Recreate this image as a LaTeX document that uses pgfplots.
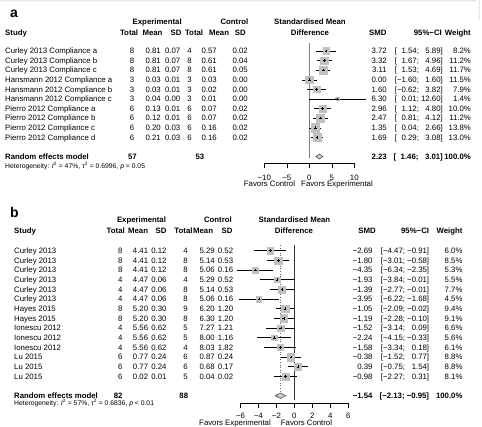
\documentclass[border=0pt]{standalone}
\usepackage{pgfplots}
\pgfplotsset{compat=1.18}
\usepackage{pgfplotstable}
\usepackage{fontspec}
\setmainfont{Liberation Sans}
\definecolor{sqgray}{RGB}{192,192,192}
\newcommand{\rs}{\fontsize{7.8}{9}\selectfont}
\newcommand{\hs}{\fontsize{6.8}{8}\selectfont}
\newlength{\wlA}\newlength{\whA}\newlength{\wlB}\newlength{\whB}
\AtBeginDocument{%
\settowidth{\wlA}{\rs −1.60}\settowidth{\whA}{\rs 12.60}%
\settowidth{\wlB}{\rs −6.34}\settowidth{\whB}{\rs −0.91}}
\newcommand{\ciA}[2]{[\makebox[\wlA][r]{#1}; \makebox[\whA][r]{#2}]}
\newcommand{\ciB}[2]{[\makebox[\wlB][r]{#1}; \makebox[\whB][r]{#2}]}

\pgfplotstableread{
i smd lo hi w
1 3.72 1.54 5.89 8.2
2 3.32 1.67 4.96 11.2
3 3.11 1.53 4.69 11.7
4 0.00 -1.60 1.60 11.5
5 1.60 -0.62 3.82 7.9
6 6.30 0.01 12.60 1.4
7 2.96 1.12 4.80 10.0
8 2.47 0.81 4.12 11.2
9 1.35 0.04 2.66 13.8
10 1.69 0.29 3.08 13.0
}\dataA

\pgfplotstableread{
i smd lo hi w
1 -2.69 -4.47 -0.91 6.0
2 -1.80 -3.01 -0.58 8.5
3 -4.35 -6.34 -2.35 5.3
4 -1.93 -3.84 -0.01 5.5
5 -1.39 -2.77 -0.01 7.7
6 -3.95 -6.22 -1.68 4.5
7 -1.05 -2.09 -0.02 9.4
8 -1.19 -2.28 -0.10 9.1
9 -1.52 -3.14 0.09 6.6
10 -2.24 -4.15 -0.33 5.6
11 -1.58 -3.34 0.18 6.1
12 -0.38 -1.52 0.77 8.8
13 0.39 -0.75 1.54 8.8
14 -0.98 -2.27 0.31 8.1
}\dataB

\pgfplotsset{
  forest/.style={scale only axis, anchor=south west, clip=false,
    axis x line*=bottom, axis y line=none, ytick=\empty,
    tick align=outside, major tick length=5pt,
    axis line style={line width=0.6pt},
    every tick/.style={black, line width=0.6pt},
    xticklabel style={font=\rs}},
  sq/.style={scatter, only marks, mark=square*,
    scatter/use mapped color={draw=sqgray, fill=sqgray},
    visualization depends on={#1*sqrt(\thisrow{w}) \as \msz},
    scatter/@pre marker code/.append style={/tikz/mark size=\msz}},
  ci/.style={only marks, mark=none, error bars/.cd, x dir=both, x explicit, error mark=none,
    error bar style={black, line width=0.5pt}},
}

\begin{document}
\begin{tikzpicture}
\begin{scope}[x=1pt,y=-1pt, every node/.style={inner sep=0pt, font=\rs}]
\path[use as bounding box] (0,0) rectangle (482,427);
\draw[black!25, line width=0.5pt] (0,0.8) -- (474,0.8) arc[start angle=90, end angle=0, radius=5] -- (479,20);

% ---------- panel a ----------
\node[anchor=base west, font=\fontsize{14}{16}\selectfont\bfseries] at (10,17.5) {a};
\node[anchor=base, font=\rs\bfseries] at (157.2,25) {Experimental};
\node[anchor=base east, font=\rs\bfseries] at (248.5,25) {Control};
\node[anchor=base, font=\rs\bfseries] at (310,25) {Standardised Mean};
\node[anchor=base west, font=\rs\bfseries] at (5,35.1) {Study};
\node[anchor=base east, font=\rs\bfseries] at (138.3,35.1) {Total};
\node[anchor=base east, font=\rs\bfseries] at (162.7,35.1) {Mean};
\node[anchor=base east, font=\rs\bfseries] at (181.7,35.1) {SD};
\node[anchor=base east, font=\rs\bfseries] at (203.3,35.1) {Total};
\node[anchor=base east, font=\rs\bfseries] at (229.3,35.1) {Mean};
\node[anchor=base east, font=\rs\bfseries] at (246,35.1) {SD};
\node[anchor=base, font=\rs\bfseries] at (310,35.1) {Difference};
\node[anchor=base east, font=\rs\bfseries] at (386.7,35.1) {SMD};
\node[anchor=base east, font=\rs\bfseries] at (442,35.1) {95\%−CI};
\node[anchor=base east, font=\rs\bfseries] at (471,35.1) {Weight};

\foreach \nm/\cA/\cB/\cC/\cD/\cE/\cF/\cG/\cH/\cI/\cJ [count=\rr from 0] in {
 {Curley 2013 Compliance a}/8/0.81/0.07/4/0.57/0.02/3.72/1.54/5.89/8.2,
 {Curley 2013 Compliance b}/8/0.81/0.07/8/0.61/0.04/3.32/1.67/4.96/11.2,
 {Curley 2013 Compliance c}/8/0.81/0.07/8/0.61/0.05/3.11/1.53/4.69/11.7,
 {Hansmann 2012 Compliance a}/3/0.03/0.01/3/0.03/0.00/0.00/−1.60/1.60/11.5,
 {Hansmann 2012 Compliance b}/3/0.03/0.01/3/0.02/0.00/1.60/−0.62/3.82/7.9,
 {Hansmann 2012 Compliance c}/3/0.04/0.00/3/0.01/0.00/6.30/0.01/12.60/1.4,
 {Pierro 2012 Compliance a}/6/0.13/0.01/6/0.07/0.02/2.96/1.12/4.80/10.0,
 {Pierro 2012 Compliance b}/6/0.12/0.01/6/0.07/0.02/2.47/0.81/4.12/11.2,
 {Pierro 2012 Compliance c}/6/0.20/0.03/6/0.16/0.02/1.35/0.04/2.66/13.8,
 {Pierro 2012 Compliance d}/6/0.21/0.03/6/0.16/0.02/1.69/0.29/3.08/13.0}{
 \pgfmathsetmacro{\yy}{53.8+9.6*\rr}
 \node[anchor=base west] at (5,\yy) {\nm};
 \node[anchor=base east] at (134.5,\yy) {\cA};
 \node[anchor=base east] at (161,\yy) {\cB};
 \node[anchor=base east] at (180.5,\yy) {\cC};
 \node[anchor=base east] at (192,\yy) {\cD};
 \node[anchor=base east] at (217,\yy) {\cE};
 \node[anchor=base east] at (248,\yy) {\cF};
 \node[anchor=base east] at (387,\yy) {\cG};
 \node[anchor=base east] at (443,\yy) {\ciA{\cH}{\cI}};
 \node[anchor=base east] at (471,\yy) {\cJ\%};
}
\node[anchor=base west, font=\rs\bfseries] at (5,159.8) {Random effects model};
\node[anchor=base east, font=\rs\bfseries] at (137,159.8) {57};
\node[anchor=base east, font=\rs\bfseries] at (204.5,159.8) {53};
\node[anchor=base east, font=\rs\bfseries] at (387,159.8) {2.23};
\node[anchor=base east, font=\rs\bfseries] at (443,159.8) {\ciA{1.46}{3.01}};
\node[anchor=base east, font=\rs\bfseries] at (471,159.8) {100.0\%};
\node[anchor=base west, font=\hs] at (5,168.5) {Heterogeneity: \textit{I}\textsuperscript{2} = 47\%, τ\textsuperscript{2} = 0.6996, \textit{p} = 0.05};
\node[anchor=base] at (269.5,186.8) {Favors Control};
\node[anchor=base] at (337,186.8) {Favors Experimental};

% ---------- panel b ----------
\node[anchor=base west, font=\fontsize{14}{16}\selectfont\bfseries] at (10,218) {b};
\node[anchor=base, font=\rs\bfseries] at (141.5,223) {Experimental};
\node[anchor=base east, font=\rs\bfseries] at (232,223) {Control};
\node[anchor=base, font=\rs\bfseries] at (294.5,223) {Standardised Mean};
\node[anchor=base west, font=\rs\bfseries] at (14,233.6) {Study};
\node[anchor=base east, font=\rs\bfseries] at (125,233.6) {Total};
\node[anchor=base east, font=\rs\bfseries] at (148.3,233.6) {Mean};
\node[anchor=base east, font=\rs\bfseries] at (166.7,233.6) {SD};
\node[anchor=base east, font=\rs\bfseries] at (192.7,233.6) {Total};
\node[anchor=base east, font=\rs\bfseries] at (213.3,233.6) {Mean};
\node[anchor=base east, font=\rs\bfseries] at (232.7,233.6) {SD};
\node[anchor=base, font=\rs\bfseries] at (294,233.6) {Difference};
\node[anchor=base east, font=\rs\bfseries] at (376,233.6) {SMD};
\node[anchor=base east, font=\rs\bfseries] at (429.3,233.6) {95\%−CI};
\node[anchor=base east, font=\rs\bfseries] at (462.7,233.6) {Weight};

\foreach \nm/\cA/\cB/\cC/\cD/\cE/\cF/\cG/\cH/\cI/\cJ [count=\rr from 0] in {
 {Curley 2013}/8/4.41/0.12/4/5.29/0.52/−2.69/−4.47/−0.91/6.0,
 {Curley 2013}/8/4.41/0.12/8/5.14/0.53/−1.80/−3.01/−0.58/8.5,
 {Curley 2013}/8/4.41/0.12/8/5.06/0.16/−4.35/−6.34/−2.35/5.3,
 {Curley 2013}/4/4.47/0.06/4/5.29/0.52/−1.93/−3.84/−0.01/5.5,
 {Curley 2013}/4/4.47/0.06/8/5.14/0.53/−1.39/−2.77/−0.01/7.7,
 {Curley 2013}/4/4.47/0.06/8/5.06/0.16/−3.95/−6.22/−1.68/4.5,
 {Hayes 2015}/8/5.20/0.30/9/6.20/1.20/−1.05/−2.09/−0.02/9.4,
 {Hayes 2015}/8/5.20/0.30/8/6.30/1.20/−1.19/−2.28/−0.10/9.1,
 {Ionescu 2012}/4/5.56/0.62/5/7.27/1.21/−1.52/−3.14/0.09/6.6,
 {Ionescu 2012}/4/5.56/0.62/5/8.00/1.16/−2.24/−4.15/−0.33/5.6,
 {Ionescu 2012}/4/5.56/0.62/4/8.03/1.82/−1.58/−3.34/0.18/6.1,
 {Lu 2015}/6/0.77/0.24/6/0.87/0.24/−0.38/−1.52/0.77/8.8,
 {Lu 2015}/6/0.77/0.24/6/0.68/0.17/0.39/−0.75/1.54/8.8,
 {Lu 2015}/6/0.02/0.01/5/0.04/0.02/−0.98/−2.27/0.31/8.1}{
 \pgfmathsetmacro{\yy}{253.5+9.67*\rr}
 \node[anchor=base west] at (14,\yy) {\nm};
 \node[anchor=base east] at (122.7,\yy) {\cA};
 \node[anchor=base east] at (148.3,\yy) {\cB};
 \node[anchor=base east] at (166.7,\yy) {\cC};
 \node[anchor=base east] at (188,\yy) {\cD};
 \node[anchor=base east] at (215,\yy) {\cE};
 \node[anchor=base east] at (233.3,\yy) {\cF};
 \node[anchor=base east] at (372.7,\yy) {\cG};
 \node[anchor=base east] at (429.3,\yy) {\ciB{\cH}{\cI}};
 \node[anchor=base east] at (462.7,\yy) {\cJ\%};
}
\node[anchor=base west, font=\rs\bfseries] at (14,398.5) {Random effects model};
\node[anchor=base east, font=\rs\bfseries] at (122.7,398.5) {82};
\node[anchor=base east, font=\rs\bfseries] at (188.3,398.5) {88};
\node[anchor=base east, font=\rs\bfseries] at (372.7,398.5) {−1.54};
\node[anchor=base east, font=\rs\bfseries] at (429.3,398.5) {\ciB{−2.13}{−0.95}};
\node[anchor=base east, font=\rs\bfseries] at (462.7,398.5) {100.0\%};
\node[anchor=base west, font=\hs] at (14,405.5) {Heterogeneity: \textit{I}\textsuperscript{2} = 57\%, τ\textsuperscript{2} = 0.6836, \textit{p} < 0.01};
\node[anchor=base] at (235,426) {Favors Experimental};
\node[anchor=base] at (306.5,426) {Favors Control};
\end{scope}

% ---------- plot a ----------
\begin{axis}[forest, at={(264.3pt,-163.3pt)}, width=90pt, height=121.92pt,
  xmin=-10, xmax=10, ymin=-12.7, ymax=0,
  xtick={-10,-5,0,5,10}, xticklabels={−10,−5,0,5,10},
  xticklabel style={yshift=-3.3pt}]
\addplot[gray, line width=0.8pt] coordinates {(0,-0.17) (0,-12.15)};
\addplot[ci] table[x=smd, y expr=-\thisrow{i}, x error plus expr=\thisrow{hi}-\thisrow{smd},
        x error minus expr=\thisrow{smd}-\thisrow{lo}] {\dataA};
\addplot[sq=1.15] table[x=smd, y expr=-\thisrow{i}] {\dataA};
\addplot[only marks, mark=+, mark size=1.3pt, black, line width=0.4pt]
  table[x=smd, y expr=-\thisrow{i}] {\dataA};
\addplot[fill=black!20, draw=black!75, line width=0.5pt]
  coordinates {(1.46,-12) (2.23,-11.74) (3.01,-12) (2.23,-12.26)} -- cycle;
\end{axis}

% ---------- plot b ----------
\begin{axis}[forest, at={(240.5pt,-403pt)}, width=107.8pt, height=159.07pt,
  xmin=-6, xmax=6, ymin=-16.75, ymax=-0.3,
  xtick={-6,-4,-2,0,2,4,6}, xticklabels={−6,−4,−2,0,2,4,6},
  xticklabel style={yshift=-1.6pt}]
\addplot[black!80, line width=0.6pt] coordinates {(0,-0.41) (0,-16.45)};
\addplot[black!60, dotted, line width=0.6pt] coordinates {(-1.54,-0.41) (-1.54,-16.45)};
\addplot[ci] table[x=smd, y expr=-\thisrow{i}, x error plus expr=\thisrow{hi}-\thisrow{smd},
        x error minus expr=\thisrow{smd}-\thisrow{lo}] {\dataB};
\addplot[sq=1.25] table[x=smd, y expr=-\thisrow{i}] {\dataB};
\addplot[only marks, mark=+, mark size=1.3pt, black, line width=0.4pt]
  table[x=smd, y expr=-\thisrow{i}] {\dataB};
\addplot[fill=black!20, draw=black!75, line width=0.5pt]
  coordinates {(-2.13,-16) (-1.54,-15.72) (-0.95,-16) (-1.54,-16.28)} -- cycle;
\end{axis}
\end{tikzpicture}
\end{document}
